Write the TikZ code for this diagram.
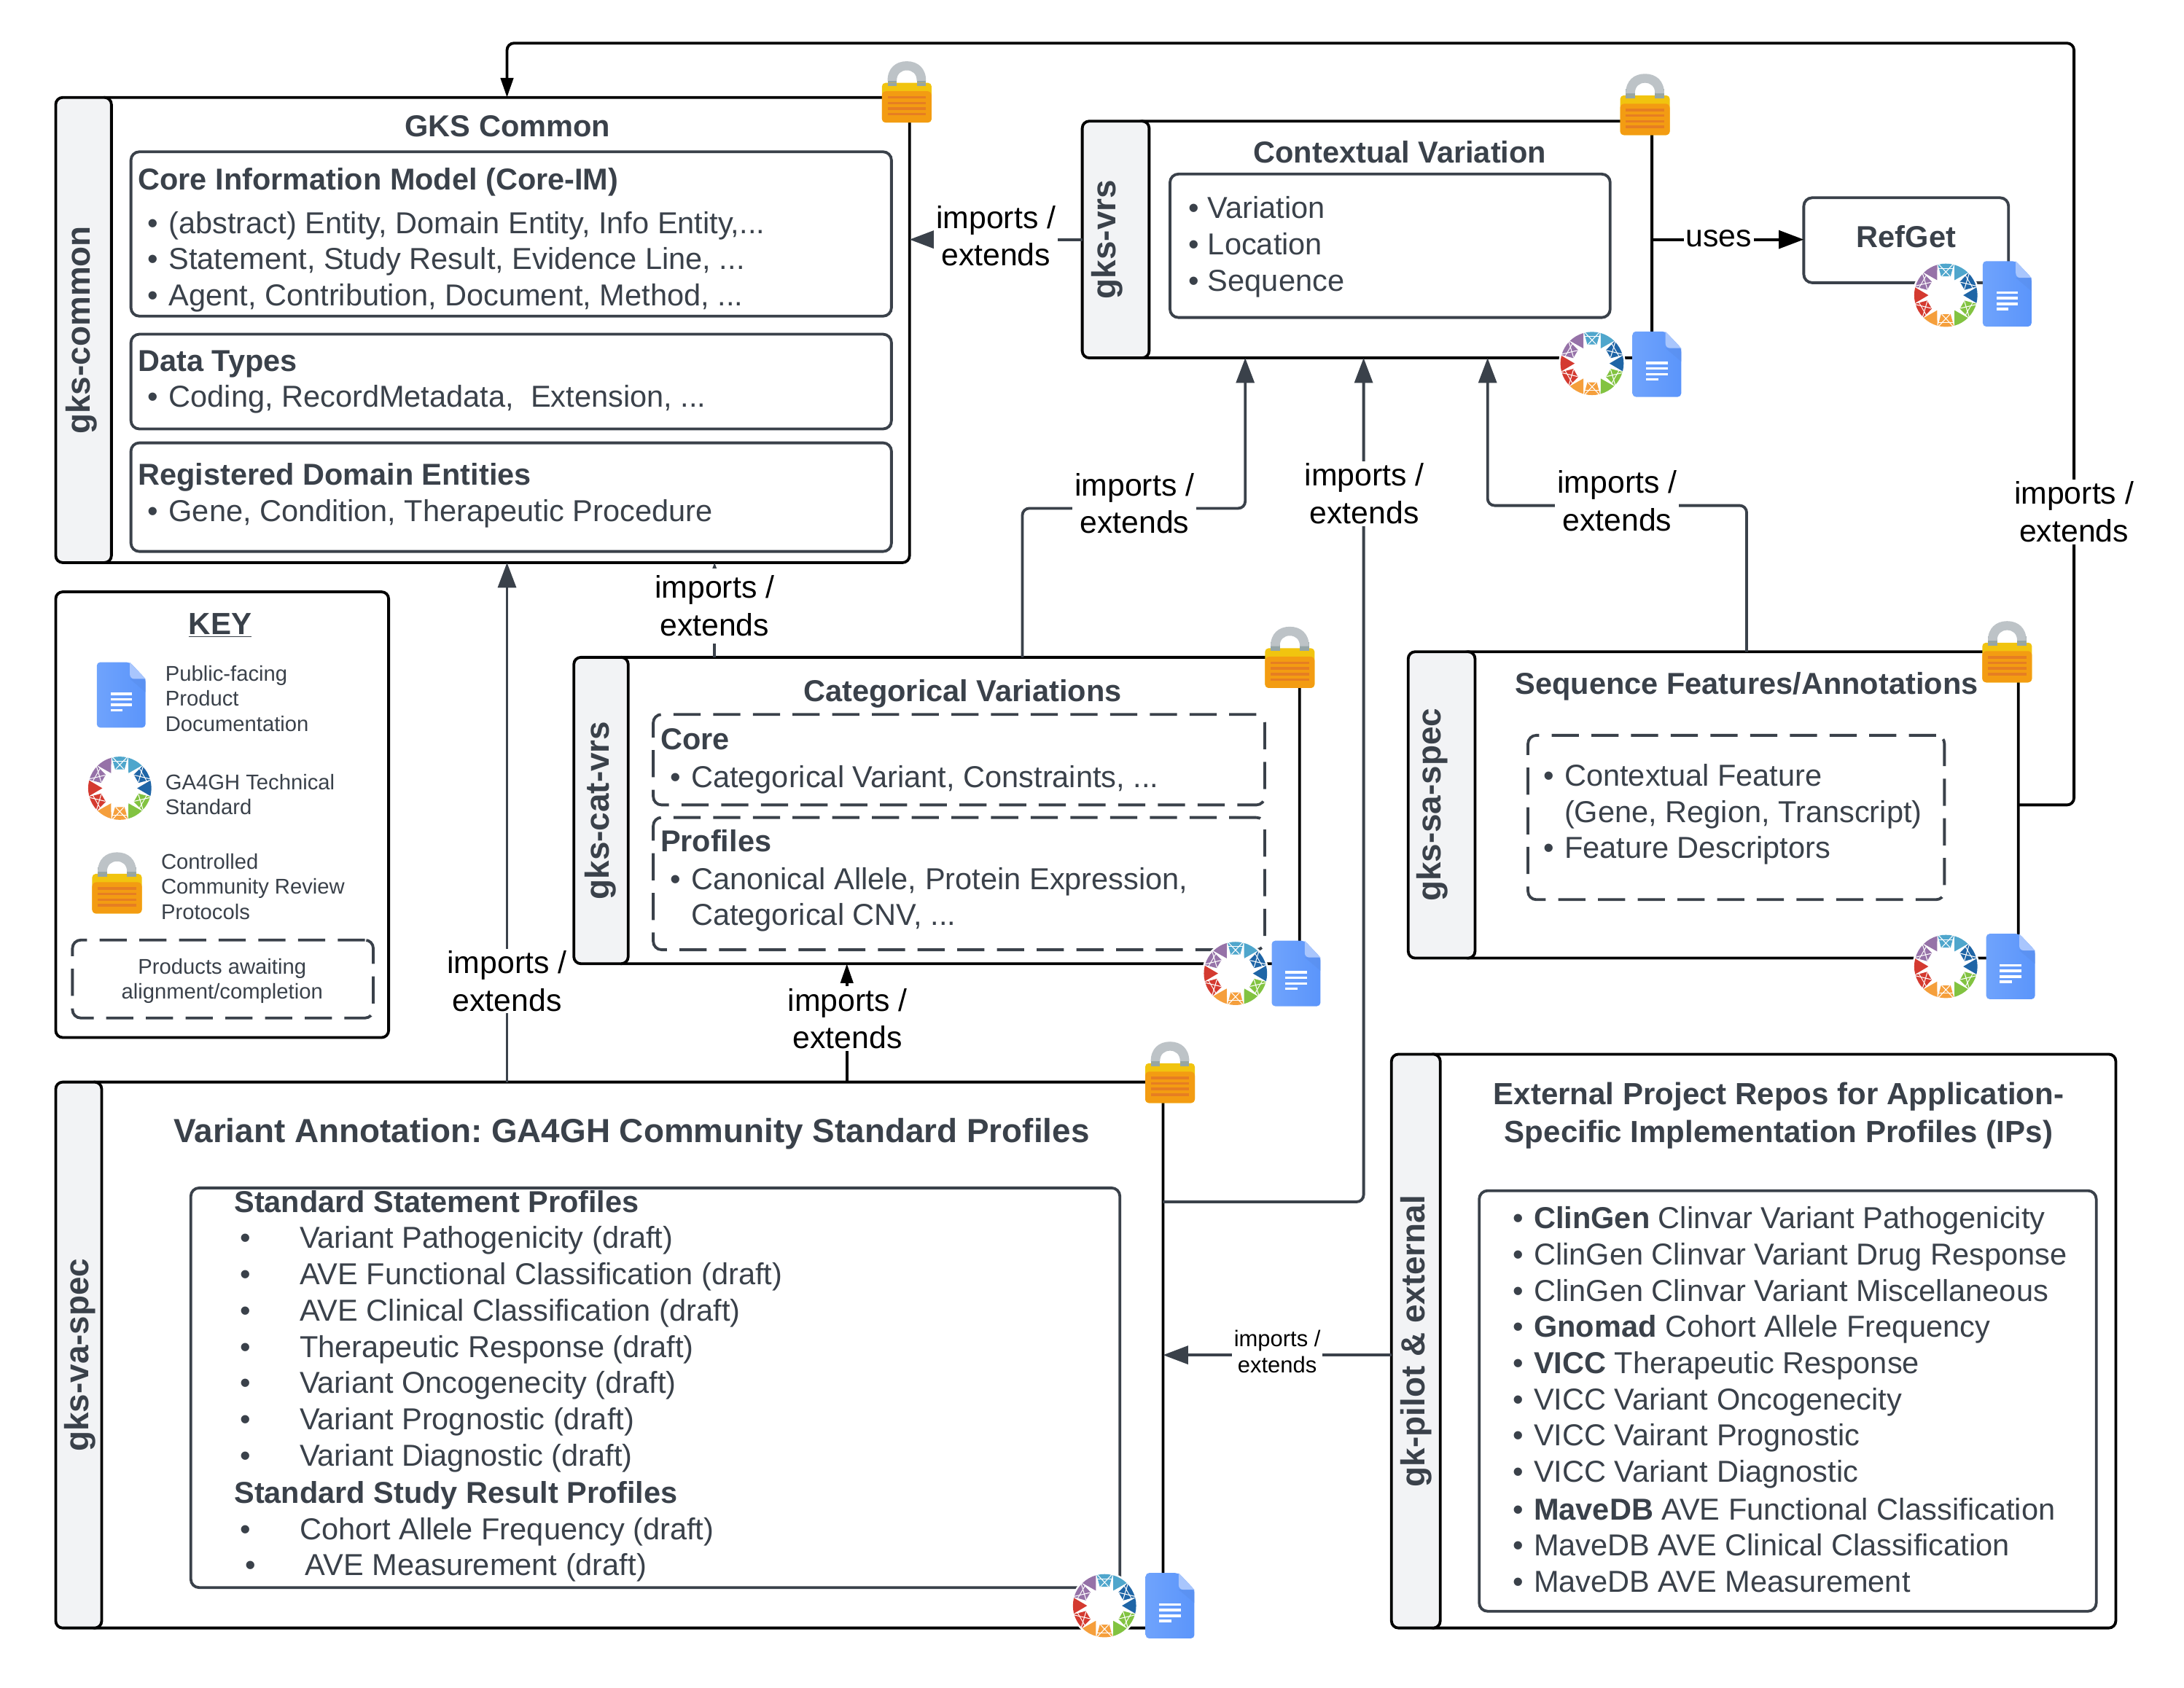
\documentclass[tikz,border=0pt]{standalone}
\usepackage{fontspec}
\setmainfont{Liberation Sans}
\usetikzlibrary{arrows.meta,calc}
\frenchspacing
\definecolor{ink}{HTML}{3A414A}
\definecolor{tabfill}{HTML}{F2F3F5}
\definecolor{docb}{HTML}{6FA3FC}
\definecolor{docc}{HTML}{5B95FB}
\definecolor{docl}{HTML}{A9C6FD}
\definecolor{docd}{HTML}{5A8FEC}
\definecolor{lky}{HTML}{F1C40F}
\definecolor{lko}{HTML}{F39C12}
\definecolor{lks}{HTML}{E67E22}
\definecolor{lkg}{HTML}{BDC3C7}
\definecolor{lkd}{HTML}{95A5A6}
\definecolor{gap}{HTML}{9672A8}
\definecolor{gal}{HTML}{4FA6CC}
\definecolor{gad}{HTML}{1F65A6}
\definecolor{gag}{HTML}{82C341}
\definecolor{gao}{HTML}{F59F3C}
\definecolor{gar}{HTML}{D43A30}
\tikzset{
 x=1pt,y=-1pt,
 mainbox/.style={draw=black,line width=2pt,rounded corners=5pt,fill=white},
 tabbox/.style={draw=black,line width=2pt,rounded corners=5pt,fill=tabfill},
 innerbox/.style={draw=ink,line width=2pt,rounded corners=6pt},
 dashbox/.style={innerbox,dash pattern=on 19.5pt off 9pt},
 body/.style={font=\fontsize{21.75}{26}\selectfont,text=ink,inner sep=0pt,anchor=base west},
 bodyb/.style={body,font=\fontsize{21.7}{26}\selectfont\bfseries},
 title/.style={font=\fontsize{21.75}{27}\selectfont\bfseries,text=ink,inner sep=0pt,align=center},
 tabtext/.style={font=\fontsize{24}{24}\selectfont\bfseries,text=ink,inner sep=0pt,rotate=90},
 keytext/.style={font=\fontsize{15.3}{18}\selectfont,text=ink,inner sep=0pt,align=left,anchor=west},
 conn/.style={draw=ink,line width=2pt,rounded corners=5pt},
 arrowed/.style={-{Triangle[length=18pt,width=13pt]}},
 lbl/.style={font=\fontsize{22.4}{27}\selectfont,text=black,fill=white,inner sep=1.5pt,align=center},
 lblsmall/.style={font=\fontsize{16.2}{19}\selectfont,text=black,fill=white,inner sep=1.5pt,align=center},
 lockicon/.pic={
  \path[fill=lkd] (-13.8,-5) rectangle (-7.2,-11);
  \path[fill=lkd] (7.2,-5) rectangle (13.8,-11);
  \path[fill=lkg] (-13.8,-8) .. controls (-13.8,-17) and (-8,-22) .. (0,-22) .. controls (8,-22) and (13.8,-17) .. (13.8,-8) -- (7.2,-8) .. controls (7.2,-13) and (4,-15.5) .. (0,-15.5) .. controls (-4,-15.5) and (-7.2,-13) .. (-7.2,-8) -- cycle;
  \path[fill=lky,rounded corners=2.5pt] (-17.8,22) rectangle (17.8,-6.5);
  \path[fill=lkd] (-13.8,-6.5) rectangle (-7.2,-4.5);
  \path[fill=lkd] (7.2,-6.5) rectangle (13.8,-4.5);
  \path[fill=lko,rounded corners=3pt] (-17.8,22) rectangle (17.8,-0.5);
  \foreach \yy in {4,8,12,16}{\path[fill=lks] (-13.8,\yy-0.9) rectangle (13.8,\yy+0.9);}
 },
 docicon/.pic={
  \path[left color=docb,right color=docc,rounded corners=2.5pt] (-17.5,-23.5) -- (6.2,-23.5) -- (17.5,-11.5) -- (17.5,23.5) -- (-17.5,23.5) -- cycle;
  \path[fill=docd,opacity=0.6] (6.2,-11.5) -- (17.5,-11.5) -- (17.5,-2) -- cycle;
  \path[fill=docl] (6.2,-23.5) -- (17.5,-11.5) -- (9.5,-11.5) .. controls (7.5,-11.5) and (6.2,-13) .. (6.2,-15) -- cycle;
  \foreach \yy in {-0.9,3.1,7.2}{\path[fill=white] (-7.7,\yy-0.95) rectangle (7.7,\yy+0.95);}
  \path[fill=white] (-7.7,10.05) rectangle (1,11.95);
 },
 logoicon/.pic={
  \path[fill=white] (0,0) circle[radius=24];
  \foreach \cc/\ss/\col in {90/60/gal,30/0/gad,-30/-60/gag,-90/-120/gao,-150/180/gar,150/120/gap}{
   \path[fill=\col] ({22.7*cos(\ss+14.3)},{-22.7*sin(\ss+14.3)}) -- ({22.7*cos(\ss+7)},{-22.7*sin(\ss+7)}) -- ({22.7*cos(\ss)},{-22.7*sin(\ss)}) -- ({22.7*cos(\ss-7)},{-22.7*sin(\ss-7)}) -- ({22.7*cos(\ss-14.3)},{-22.7*sin(\ss-14.3)}) -- ({12.5*cos(\ss)},{-12.5*sin(\ss)}) -- cycle;
   \path[fill=\col] ({22.7*cos(\cc+14.5)},{-22.7*sin(\cc+14.5)}) -- ({22.7*cos(\cc+7)},{-22.7*sin(\cc+7)}) -- ({22.7*cos(\cc)},{-22.7*sin(\cc)}) -- ({22.7*cos(\cc-7)},{-22.7*sin(\cc-7)}) -- ({22.7*cos(\cc-14.5)},{-22.7*sin(\cc-14.5)}) -- ({14*cos(\cc-14)},{-14*sin(\cc-14)}) -- ({14*cos(\cc+14)},{-14*sin(\cc+14)}) -- cycle;
   \draw[white,line width=0.55pt] ({23.5*cos(\cc+14)},{-23.5*sin(\cc+14)}) -- ({14*cos(\cc-12)},{-14*sin(\cc-12)});
   \draw[white,line width=0.55pt] ({23.5*cos(\cc-14)},{-23.5*sin(\cc-14)}) -- ({14*cos(\cc+12)},{-14*sin(\cc+12)});
   \draw[white,line width=0.5pt] ({20*cos(\cc+15)},{-20*sin(\cc+15)}) -- ({20*cos(\cc-15)},{-20*sin(\cc-15)});
  }
 },
}
\newcommand\bxn[6]{\pgfmathsetmacro\bw{#4-#2}\pgfmathsetmacro\bh{#5-#3}%
 \node[#6,minimum width=\bw pt,minimum height=\bh pt,inner sep=0pt,outer sep=0pt] (#1) at ({(#2+#4)/2},{(#3+#5)/2}) {};}
\begin{document}
\begin{tikzpicture}
\useasboundingbox (0,0) rectangle (1568,1212);
\path[fill=white] (0,0) rectangle (1568,1212);
% guide coordinates
\coordinate (gA) at (734,0);
\coordinate (gB) at (894,0);
\coordinate (gC) at (979,0);
\coordinate (gD) at (1068,0);
\coordinate (gE) at (1254,0);
\coordinate (gF) at (364,0);
\coordinate (gG) at (608,0);
\coordinate (gH) at (513,0);
\coordinate (hA) at (0,172);
\coordinate (hB) at (0,973);
\coordinate (hC) at (0,578);
\coordinate (hD) at (0,863);
\coordinate (loopR) at (1489,31);
\coordinate (jA) at (734,365);
\coordinate (jB) at (894,365);
\coordinate (jD) at (1068,363);
\coordinate (jE) at (1254,363);
% main boxes
\bxn{commonmain}{70}{70}{653}{404}{mainbox}
\bxn{commontab}{40}{70}{80}{404}{tabbox}
\bxn{vrsmain}{815}{87}{1186}{257}{mainbox}
\bxn{vrstab}{777}{87}{825}{257}{tabbox}
\bxn{refget}{1295}{142}{1442}{203}{innerbox}
\bxn{catmain}{441}{472}{933}{692}{mainbox}
\bxn{cattab}{412}{472}{451}{692}{tabbox}
\bxn{samain}{1049}{468}{1449}{688}{mainbox}
\bxn{satab}{1011}{468}{1059}{688}{tabbox}
\bxn{vamain}{63}{777}{835}{1169}{mainbox}
\bxn{vatab}{40}{777}{73}{1169}{tabbox}
\bxn{pilotmain}{1024}{757}{1519}{1169}{mainbox}
\bxn{pilottab}{999}{757}{1034}{1169}{tabbox}
\bxn{keybox}{40}{425}{279}{745}{mainbox}
% inner boxes
\bxn{coreim}{94}{109}{640}{227}{innerbox}
\bxn{dtypes}{94}{240}{640}{308}{innerbox}
\bxn{regdom}{94}{318}{640}{396}{innerbox}
\bxn{vrsin}{840}{125}{1156}{228}{innerbox}
\bxn{catcore}{469}{513}{908}{578}{dashbox}
\bxn{catprof}{469}{587}{908}{682}{dashbox}
\bxn{sain}{1097}{528}{1396}{646}{dashbox}
\bxn{vain}{137}{853}{804}{1140}{innerbox}
\bxn{pilotin}{1062}{855}{1505}{1157}{innerbox}
\bxn{keydash}{52}{675}{268}{731}{dashbox}
% connectors
\draw[conn,arrowed] (vrstab.west |- hA) -- (commonmain.east |- hA);
\draw[line width=2pt,draw=black,-{Triangle[length=18pt,width=13pt]}] (vrsmain.east |- hA) -- (refget.west |- hA);
\draw[draw=black,line width=2pt,rounded corners=5pt,-{Triangle[length=14pt,width=9pt]}] (samain.east |- hC) -- (hC -| loopR) -- (loopR) -- (gF |- loopR) -- (commonmain.north -| gF);
\draw[conn,arrowed] (catmain.north -| gA) -- (jA) -- (jB) -- (vrsmain.south -| gB);
\draw[conn,arrowed] (vamain.east |- hD) -- (hD -| gC) -- (vrsmain.south -| gC);
\draw[conn,arrowed] (samain.north -| gE) -- (jE) -- (jD) -- (vrsmain.south -| gD);
\draw[conn,arrowed] (vamain.north -| gF) -- (commonmain.south -| gF);
\draw[conn,arrowed] (catmain.north -| gH) -- (commonmain.south -| gH);
\draw[draw=black,line width=2pt,-{Triangle[length=14pt,width=9pt]}] (vamain.north -| gG) -- (catmain.south -| gG);
\draw[conn,arrowed] (pilottab.west |- hB) -- (vamain.east |- hB);
% connector labels
\node[lbl] (l1) at (715,169.5) {imports /\\extends};
\node[lbl] (l2) at (1234,171) {uses};
\node[lbl] (l3) at (814.5,361.5) {imports /\\extends};
\node[lbl] (l4) at (979.5,354.5) {imports /\\extends};
\node[lbl] (l5) at (1161,359.5) {imports /\\extends};
\node[lbl] (l6) at (1489,367.5) {imports /\\extends};
\node[lbl,minimum height=54pt,inner sep=0pt,minimum width=90pt] (l7) at (513,435) {imports /\\extends};
\node[lbl] (l8) at (364,704.5) {imports /\\extends};
\node[lbl] (l9) at (608.5,731.5) {imports /\\extends};
\node[lblsmall] (l10) at (917,970.5) {imports /\\extends};
% tabs
\node[tabtext] (t1) at (58.5,237) {gks-common};
\node[tabtext] (t2) at (795,172) {gks-vrs};
\node[tabtext] (t3) at (431,582) {gks-cat-vrs};
\node[tabtext] (t4) at (1028.5,578) {gks-sa-spec};
\node[tabtext] (t5) at (57.5,973) {gks-va-spec};
\node[tabtext] (t6) at (1016.5,963) {gk-pilot \& external};
% titles
\node[title] (h1) at (364.5,90.5) {GKS Common};
\node[title] (h2) at (1005,109) {Contextual Variation};
\node[title] (h3) at (1368.5,170) {RefGet};
\node[title] (h4) at (691,498) {Categorical Variations};
\node[title] (h5) at (1254,493) {Sequence Features/Annotations};
\node[title,font=\fontsize{24}{27}\selectfont\bfseries] (h6) at (453.5,814) {Variant Annotation: GA4GH Community Standard Profiles};
\node[title,font=\fontsize{22}{27}\selectfont\bfseries] (h7) at (1277,801) {External Project Repos for Application-\\Specific Implementation Profiles (IPs)};
% common
\node[bodyb] (c1) at (99,136.5) {Core Information Model (Core-IM)};
\foreach \nm/\yy/\tx in {c2/167.5/{(abstract) Entity, Domain Entity, Info Entity,...},c3/193.5/{Statement, Study Result, Evidence Line, ...},c4/219.5/{Agent, Contribution, Document, Method, ...}}{
 \node[body] (\nm b) at (106,\yy) {•};\node[body] (\nm) at (121,\yy) {\tx};}
\node[bodyb] (c5) at (99,266.5) {Data Types};
\node[body] (c6b) at (106,292.5) {•};\node[body] (c6) at (121,292.5) {Coding, RecordMetadata,\ \ Extension, ...};
\node[bodyb] (c7) at (99,348.5) {Registered Domain Entities};
\node[body] (c8b) at (106,374.5) {•};\node[body] (c8) at (121,374.5) {Gene, Condition, Therapeutic Procedure};
% vrs
\foreach \nm/\yy/\tx in {v1/157/Variation,v2/183/Location,v3/209/Sequence}{
 \node[body] (\nm b) at (853,\yy) {•};\node[body] (\nm) at (867,\yy) {\tx};}
% cat
\node[bodyb] (k1) at (474,538.5) {Core};
\node[body] (k2b) at (481,565.5) {•};\node[body] (k2) at (496,565.5) {Categorical Variant, Constraints, ...};
\node[bodyb] (k3) at (474,611.5) {Profiles};
\node[body] (k4b) at (481,638.5) {•};\node[body] (k4) at (496,638.5) {Canonical Allele, Protein Expression,};
\node[body] (k5) at (496,664.5) {Categorical CNV, ...};
% sa
\node[body] (s1b) at (1108,564.5) {•};\node[body] (s1) at (1123,564.5) {Contextual Feature};
\node[body] (s2) at (1123,590.5) {(Gene, Region, Transcript)};
\node[body] (s3b) at (1108,616.5) {•};\node[body] (s3) at (1123,616.5) {Feature Descriptors};
% va
\node[bodyb] (a0) at (168,870.5) {Standard Statement Profiles};
\foreach \nm/\yy/\tx in {a1/896.5/Variant Pathogenicity (draft),a2/922.5/AVE Functional Classification (draft),a3/948.5/AVE Clinical Classification (draft),a4/974.5/Therapeutic Response (draft),a5/1000.5/Variant Oncogenecity (draft),a6/1026.5/Variant Prognostic (draft),a7/1052.5/Variant Diagnostic (draft)}{
 \node[body] (\nm b) at (172,\yy) {•};\node[body] (\nm) at (215,\yy) {\tx};}
\node[bodyb] (a8) at (168,1079.5) {Standard Study Result Profiles};
\node[body] (a9b) at (172,1105.5) {•};\node[body] (a9) at (215,1105.5) {Cohort Allele Frequency (draft)};
\node[body] (a10b) at (176,1131.5) {•};\node[body] (a10) at (219,1131.5) {AVE Measurement (draft)};
% pilot
\foreach \nm/\yy/\tx in {
 p1/882.3/{\textbf{ClinGen} Clinvar Variant Pathogenicity},
 p2/908.3/{ClinGen Clinvar Variant Drug Response},
 p3/934.3/{ClinGen Clinvar Variant Miscellaneous},
 p4/960.3/{\textbf{Gnomad} Cohort Allele Frequency},
 p5/986.3/{\textbf{VICC} Therapeutic Response},
 p6/1012.3/{VICC Variant Oncogenecity},
 p7/1038.3/{VICC Vairant Prognostic},
 p8/1064.3/{VICC Variant Diagnostic},
 p9/1091.3/{\textbf{MaveDB} AVE Functional Classification},
 p10/1117.3/{MaveDB AVE Clinical Classification},
 p11/1143.3/{MaveDB AVE Measurement}}{
 \node[body] (\nm b) at (1086,\yy) {•};\node[body] (\nm) at (1101,\yy) {\tx};}
% key
\node[title,font=\fontsize{22}{27}\selectfont\bfseries] (kt) at (158,449) {\underline{KEY}};
\node[keytext] (kd) at (118.5,501.5) {Public-facing\\Product\\Documentation};
\node[keytext] (kg) at (118.5,570.5) {GA4GH Technical\\Standard};
\node[keytext] (kl) at (115.5,636.5) {Controlled\\Community Review\\Protocols};
\node[font=\fontsize{15.3}{18}\selectfont,text=ink,inner sep=0pt,align=center] (kp) at (159.5,704.5) {Products awaiting\\alignment/completion};
% icons
\pic at (651,66) {lockicon};
\pic at (1181,75) {lockicon};
\pic at (926,472) {lockicon};
\pic at (1441,468) {lockicon};
\pic at (840,770) {lockicon};
\pic at (84,634) {lockicon};
\pic at (1143,261) {logoicon};
\pic at (1397,212) {logoicon};
\pic at (887,699) {logoicon};
\pic at (1397,694) {logoicon};
\pic at (793,1153) {logoicon};
\pic at (86,566) {logoicon};
\pic at (1189.5,261.5) {docicon};
\pic at (1441,211) {docicon};
\pic at (930.5,699) {docicon};
\pic at (1443.5,694) {docicon};
\pic at (840,1153) {docicon};
\pic at (87,499) {docicon};
\end{tikzpicture}
\end{document}
